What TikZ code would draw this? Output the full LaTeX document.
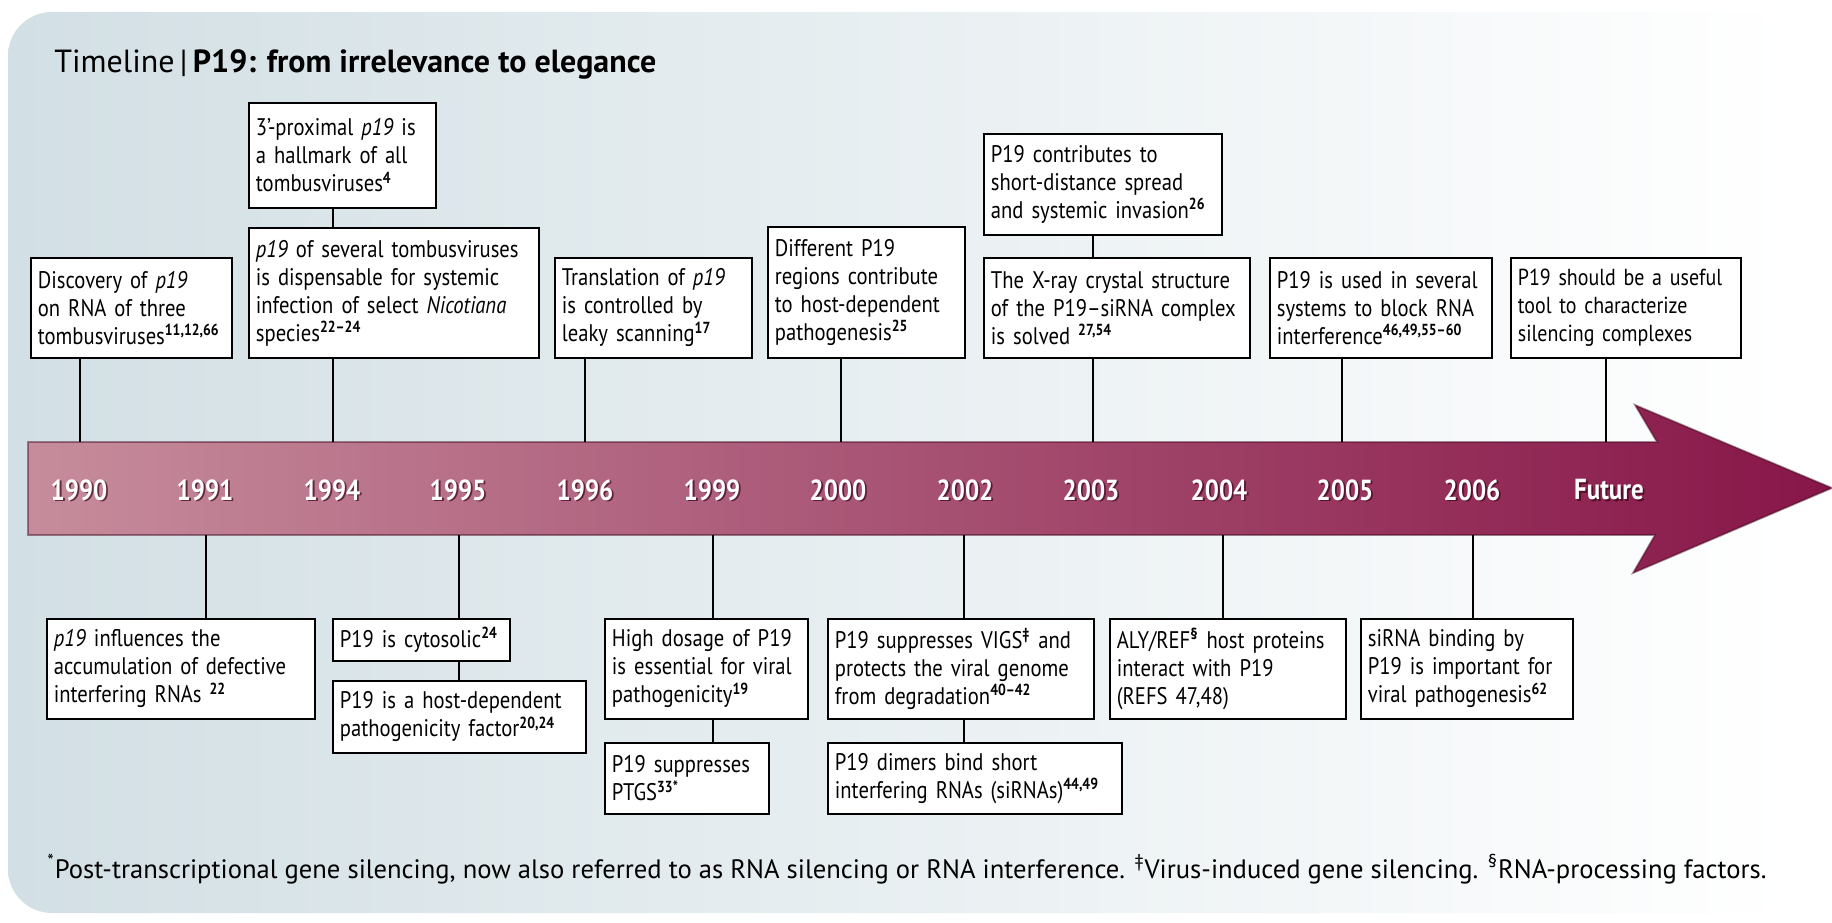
\documentclass[tikz,border=0pt]{standalone}
\usepackage{fontspec}
\setmainfont{PT Sans}[FakeStretch=0.86]
\newfontfamily\widefont{PT Sans}
\definecolor{bgc}{RGB}{210,223,228}
\definecolor{arrL}{RGB}{198,140,156}
\definecolor{arrM}{RGB}{160,64,104}
\definecolor{arrR}{RGB}{135,22,72}
\definecolor{arrEdge}{RGB}{60,4,25}
\newcommand\rf[1]{\textsuperscript{\bfseries #1}}
\newcommand\yearlab[3]{%
  \node[yrsh, xshift=0.9pt, yshift=-0.9pt] at (#2,490) {#3};
  \node[yr] (#1) at (#2,490) {#3};}
\begin{document}
\begin{tikzpicture}[x=0.5pt,y=-0.5pt,
  tbox/.style={draw=black, line width=0.9pt, fill=white, anchor=north west, align=left,
    inner xsep=3.5pt, inner ysep=1.5pt, font=\fontsize{12}{14}\selectfont},
  conn/.style={draw=black, line width=0.75pt},
  yr/.style={text=white, font=\fontsize{14.5}{16}\selectfont\bfseries, inner sep=0pt},
  yrsh/.style={text=arrEdge, opacity=0.7, font=\fontsize{14.5}{16}\selectfont\bfseries, inner sep=0pt},
]
\useasboundingbox (0,0) rectangle (1832,922);
\fill[white] (0,0) rectangle (1832,922);
% background panel
\shade[left color=bgc, right color=white, rounded corners=22pt] (8,12) rectangle (1790,913);

% title
\node[anchor=base west, inner sep=0pt, font=\widefont\fontsize{16}{19}\selectfont] (title) at (54,72)
  {Timeline\,|\,\textbf{P19: from irrelevance to elegance}};

% arrow
\path[left color=arrL, middle color=arrM, right color=arrR]
  (28,442) -- (1657,442) -- (1635,405) -- (1832,488) -- (1633,573) -- (1655,535) -- (28,535) -- cycle;
\draw[arrEdge, line width=0.9pt, opacity=0.45]
  (28,442) -- (1657,442) -- (1635,405) -- (1832,488) -- (1633,573) -- (1655,535) -- (28,535) -- cycle;

% years
\yearlab{y1990}{79}{1990}
\yearlab{y1991}{205}{1991}
\yearlab{y1994}{332}{1994}
\yearlab{y1995}{458}{1995}
\yearlab{y1996}{585}{1996}
\yearlab{y1999}{712}{1999}
\yearlab{y2000}{838}{2000}
\yearlab{y2002}{965}{2002}
\yearlab{y2003}{1091}{2003}
\yearlab{y2004}{1219}{2004}
\yearlab{y2005}{1345}{2005}
\yearlab{y2006}{1472}{2006}
\yearlab{yfut}{1609}{Future}

% arrow edge coordinates
\coordinate (t1990) at (80,442);
\coordinate (t1994) at (333,442);
\coordinate (t1996) at (585,442);
\coordinate (t2000) at (841,442);
\coordinate (t2003) at (1093,442);
\coordinate (t2005) at (1342,442);
\coordinate (tfut) at (1606,442);
\coordinate (b1991) at (206,535);
\coordinate (b1995) at (459,535);
\coordinate (b1999) at (713,535);
\coordinate (b2002) at (964,535);
\coordinate (b2004) at (1223,535);
\coordinate (b2006) at (1473,535);

% top boxes
\node[tbox, text width=86.5pt, minimum height=52.5pt] (A1) at (248,102)
  {3’-proximal \textit{p19} is\\a hallmark of all\\tombusviruses\rf{4}};
\node[tbox, text width=138pt, minimum height=65pt] (A2) at (248,227)
  {\textit{p19} of several tombusviruses\\is dispensable for systemic\\infection of select \textit{Nicotiana}\\species\rf{22–24}};
\node[tbox, text width=93.5pt, minimum height=50pt] (A0) at (30,257)
  {Discovery of \textit{p19}\\on RNA of three\\tombusviruses\rf{11,12,66}};
\node[tbox, text width=91.5pt, minimum height=50pt] (A3) at (554,257)
  {Translation of \textit{p19}\\is controlled by\\leaky scanning\rf{17}};
\node[tbox, text width=91.5pt, minimum height=65.5pt] (A4) at (767,226)
  {Different P19\\regions contribute\\to host-dependent\\pathogenesis\rf{25}};
\node[tbox, text width=112pt, minimum height=50.5pt] (A5a) at (983,133)
  {P19 contributes to\\short-distance spread\\and systemic invasion\rf{26}};
\node[tbox, text width=126pt, minimum height=50pt] (A5) at (983,257)
  {The X-ray crystal structure\\of the P19–siRNA complex\\is solved \rf{27,54}};
\node[tbox, text width=104pt, minimum height=50pt] (A6) at (1269,257)
  {P19 is used in several\\systems to block RNA\\interference\rf{46,49,55–60}};
\node[tbox, text width=108pt, minimum height=50pt, font=\fontsize{11.6}{14}\selectfont] (A7) at (1510,257)
  {P19 should be a useful\\tool to characterize\\silencing complexes};

% bottom boxes
\node[tbox, text width=127pt, minimum height=50pt] (B1) at (46,618)
  {\textit{p19} influences the\\accumulation of defective\\interfering RNAs \rf{22}};
\node[tbox, text width=81.5pt, minimum height=21pt] (B2a) at (332,618)
  {P19 is cytosolic\rf{24}};
\node[tbox, text width=119.5pt, minimum height=36pt] (B2b) at (332,680)
  {P19 is a host-dependent\\pathogenicity factor\rf{20,24}};
\node[tbox, text width=94.5pt, minimum height=50pt] (B3a) at (604,618)
  {High dosage of P19\\is essential for viral\\pathogenicity\rf{19}};
\node[tbox, text width=75pt, minimum height=35.5pt] (B3b) at (604,742)
  {P19 suppresses\\PTGS\rf{33*}};
\node[tbox, text width=126pt, minimum height=50pt] (B4a) at (827,618)
  {P19 suppresses VIGS\rf{‡} and\\protects the viral genome\\from degradation\rf{40–42}};
\node[tbox, text width=140pt, minimum height=35.5pt] (B4b) at (827,742)
  {P19 dimers bind short\\interfering RNAs (siRNAs)\rf{44,49}};
\node[tbox, text width=111pt, minimum height=50pt] (B5) at (1109,618)
  {ALY/REF\rf{§} host proteins\\interact with P19\\(REFS 47,48)};
\node[tbox, text width=99pt, minimum height=50pt] (B6) at (1360,618)
  {siRNA binding by\\P19 is important for\\viral pathogenesis\rf{62}};

% connectors
\draw[conn] (A0.south -| t1990) -- (t1990);
\draw[conn] (A1.south -| t1994) -- (A2.north -| t1994);
\draw[conn] (A2.south -| t1994) -- (t1994);
\draw[conn] (A3.south -| t1996) -- (t1996);
\draw[conn] (A4.south -| t2000) -- (t2000);
\draw[conn] (A5a.south -| t2003) -- (A5.north -| t2003);
\draw[conn] (A5.south -| t2003) -- (t2003);
\draw[conn] (A6.south -| t2005) -- (t2005);
\draw[conn] (A7.south -| tfut) -- (tfut);
\draw[conn] (b1991) -- (B1.north -| b1991);
\draw[conn] (b1995) -- (B2a.north -| b1995);
\draw[conn] (B2a.south -| b1995) -- (B2b.north -| b1995);
\draw[conn] (b1999) -- (B3a.north -| b1999);
\draw[conn] (B3a.south -| b1999) -- (B3b.north -| b1999);
\draw[conn] (b2002) -- (B4a.north -| b2002);
\draw[conn] (B4a.south -| b2002) -- (B4b.north -| b2002);
\draw[conn] (b2004) -- (B5.north -| b2004);
\draw[conn] (b2006) -- (B6.north -| b2006);

% footnote
\node[anchor=base west, inner sep=0pt, font=\widefont\fontsize{13.3}{15}\selectfont] (foot) at (47,878)
  {\textsuperscript{*}Post-transcriptional gene silencing, now also referred to as RNA silencing or RNA interference. \textsuperscript{‡}Virus-induced gene silencing. \textsuperscript{§}RNA-processing factors.};
\end{tikzpicture}
\end{document}
